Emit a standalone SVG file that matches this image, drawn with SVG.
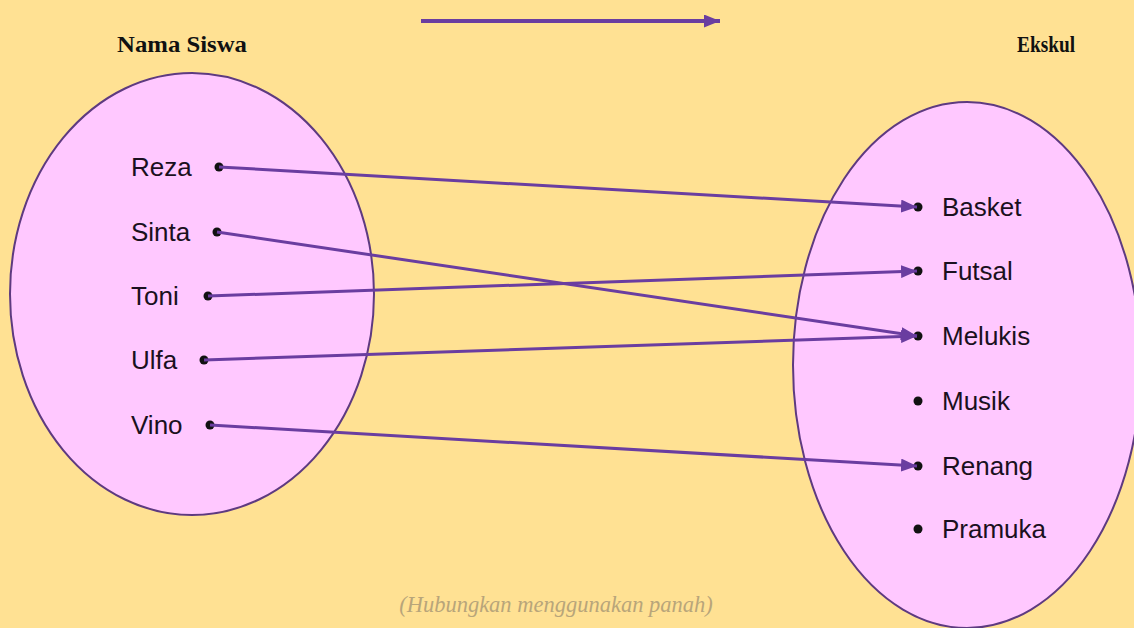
<svg xmlns="http://www.w3.org/2000/svg" width="1134" height="628" viewBox="0 0 1134 628">
<defs>
<style>
.ell{fill:#FFC8FF;stroke:#5E3A80;stroke-width:2}
.lbl{font-family:"Liberation Sans",Arial,sans-serif;font-size:26px;fill:#1a1020}
.hdr{font-family:"Liberation Serif","Times New Roman",serif;font-weight:bold;font-size:23px;fill:#111}
.dot{fill:#111}
.arr{stroke:#6A3DA0;stroke-width:3;fill:none;marker-end:url(#ah)}
.note{font-family:"Liberation Serif","Times New Roman",serif;font-style:italic;font-size:22.5px;fill:#B8A57A}
</style>
<marker id="ah" markerUnits="userSpaceOnUse" markerWidth="17" markerHeight="13" refX="16" refY="6.5" orient="auto">
<path d="M0,0 L16,6.5 L0,13 Z" fill="#6A3DA0"/>
</marker>
</defs>
<rect width="1134" height="628" fill="#FFE193"/>
<g id="header-left"><text class="hdr" x="117" y="52" textLength="130" lengthAdjust="spacingAndGlyphs">Nama Siswa</text></g>
<g id="header-right"><text class="hdr" x="1017" y="52" textLength="58" lengthAdjust="spacingAndGlyphs">Ekskul</text></g>
<g id="top-arrow"><line class="arr" x1="421" y1="21" x2="720" y2="21" style="stroke-width:4"/></g>
<g id="set-siswa">
<ellipse class="ell" cx="192" cy="294" rx="182" ry="221"/>
</g>
<g id="set-ekskul">
<ellipse class="ell" cx="967" cy="365" rx="174" ry="263"/>
</g>
<g id="node-reza"><text class="lbl" x="131" y="176">Reza</text><circle class="dot" cx="219" cy="167" r="4.5"/></g>
<g id="node-sinta"><text class="lbl" x="131" y="241">Sinta</text><circle class="dot" cx="217" cy="232" r="4.5"/></g>
<g id="node-toni"><text class="lbl" x="131" y="305">Toni</text><circle class="dot" cx="208" cy="296" r="4.5"/></g>
<g id="node-ulfa"><text class="lbl" x="131" y="369">Ulfa</text><circle class="dot" cx="204" cy="360" r="4.5"/></g>
<g id="node-vino"><text class="lbl" x="131" y="434">Vino</text><circle class="dot" cx="210" cy="425" r="4.5"/></g>
<g id="node-basket"><circle class="dot" cx="918" cy="207" r="4.5"/><text class="lbl" x="942" y="216">Basket</text></g>
<g id="node-futsal"><circle class="dot" cx="918" cy="271" r="4.5"/><text class="lbl" x="942" y="280">Futsal</text></g>
<g id="node-melukis"><circle class="dot" cx="918" cy="336" r="4.5"/><text class="lbl" x="942" y="345">Melukis</text></g>
<g id="node-musik"><circle class="dot" cx="918" cy="401" r="4.5"/><text class="lbl" x="942" y="410">Musik</text></g>
<g id="node-renang"><circle class="dot" cx="918" cy="466" r="4.5"/><text class="lbl" x="942" y="475">Renang</text></g>
<g id="node-pramuka"><circle class="dot" cx="918" cy="529" r="4.5"/><text class="lbl" x="942" y="538">Pramuka</text></g>
<g id="connectors">
<line class="arr" x1="219" y1="167" x2="917" y2="207"/>
<line class="arr" x1="217" y1="232" x2="917" y2="336"/>
<line class="arr" x1="208" y1="296" x2="917" y2="271"/>
<line class="arr" x1="204" y1="360" x2="917" y2="336"/>
<line class="arr" x1="210" y1="425" x2="917" y2="466"/>
</g>
<g id="note"><text class="note" x="556" y="612" text-anchor="middle">(Hubungkan menggunakan panah)</text></g>
</svg>
